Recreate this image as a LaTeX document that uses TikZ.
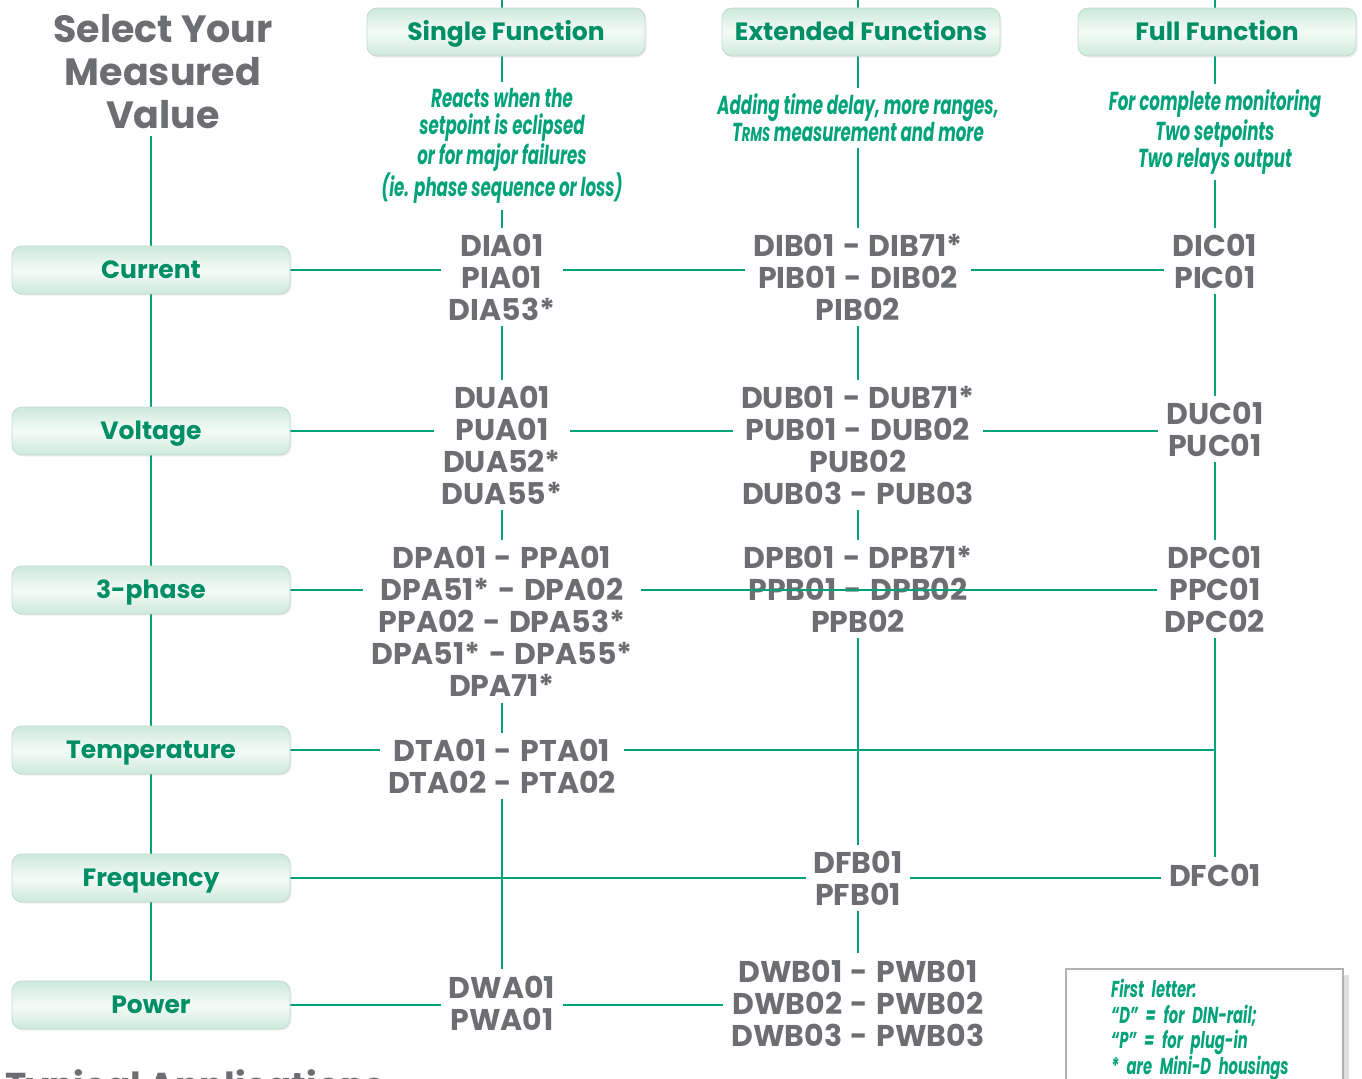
\documentclass[tikz,border=0pt]{standalone}
\usepackage{fontspec}
\setmainfont{Poppins}
\newfontfamily\notefont[FakeStretch=0.64]{Poppins}
\usetikzlibrary{backgrounds,shadows}
\definecolor{linegreen}{HTML}{00A27A}
\definecolor{boxgreen}{HTML}{008E65}
\definecolor{codegray}{HTML}{6D6E72}
\definecolor{mint}{HTML}{CDE9DC}
\definecolor{mintlight}{HTML}{F4FBF7}
\newcommand\codesep{\hspace{0.28em}-\hspace{0.28em}}

\begin{document}
\begin{tikzpicture}[x=0.5pt,y=-0.5pt]
\tikzstyle{link}=[linegreen,line width=1pt]
\tikzstyle{tab}=[rounded corners=5pt,draw=mint!85!gray,top color=mint,bottom color=mint,middle color=mintlight,minimum width=139pt,minimum height=24pt,text height=9pt,text depth=1pt,text=boxgreen,font=\fontsize{12.5}{14}\selectfont\bfseries,drop shadow={opacity=0.12,shadow xshift=0.8pt,shadow yshift=-0.8pt}]
\tikzstyle{code}=[fill=white,text=codegray,align=center,font=\fontsize{15}{16}\selectfont\bfseries,inner xsep=4pt,inner ysep=3pt]
\tikzstyle{note}=[fill=white,text=linegreen,align=center,font=\notefont\fontsize{13}{13.5}\selectfont\bfseries\itshape,inner sep=3pt]

\useasboundingbox (0,0) rectangle (1362,1078);
\clip (0,0) rectangle (1362,1078);

% title and column heads
\node[text=codegray,font=\fontsize{19}{21.5}\selectfont\bfseries,align=center] (title) at (163,72) {Select Your\\Measured\\Value};

\coordinate (topS) at (502,0);
\coordinate (topE) at (858,0);
\coordinate (topF) at (1215,0);

\node[tab] (single) at (506,32) {Single Function};
\node[tab] (extended) at (861,32) {Extended Functions};
\node[tab] (full) at (1217,32) {Full Function};

\node[note] (da) at (502,146) {Reacts when the\\setpoint is eclipsed\\or for major failures\\(ie. phase sequence or loss)};
\node[note] (db) at (858,118) {Adding time delay, more ranges,\\T{\fontsize{10}{13.5}\selectfont RMS} measurement and more};
\node[note] (dc) at (1215,132) {For complete monitoring\\Two setpoints\\Two relays output};

% measured values
\foreach \name/\y/\txt in {cur/270/Current,volt/431/Voltage,tri/590/3-phase,temp/750/Temperature,freq/878/Frequency,pow/1005/Power}
{
  \node[tab] (\name) at (151,\y) {\txt};
}

% product codes
\node[code] (ia) at (502,277) {DIA01\\PIA01\\DIA53*};
\node[code] (ib) at (858,277) {DIB01\codesep DIB71*\\PIB01\codesep DIB02\\PIB02};
\node[code] (ic) at (1215,261) {DIC01\\PIC01};

\node[code] (ua) at (502,445) {DUA01\\PUA01\\DUA52*\\DUA55*};
\node[code] (ub) at (858,445) {DUB01\codesep DUB71*\\PUB01\codesep DUB02\\PUB02\\DUB03\codesep PUB03};
\node[code] (uc) at (1215,429) {DUC01\\PUC01};

\node[code] (pa) at (502,621.5) {DPA01\codesep PPA01\\DPA51*\codesep DPA02\\PPA02\codesep DPA53*\\DPA51*\codesep DPA55*\\DPA71*};
\node[code] (pb) at (858,589) {DPB01\codesep DPB71*\\PPB01\codesep DPB02\\PPB02};
\node[code] (pc) at (1215,589) {DPC01\\PPC01\\DPC02};

\node[code] (ta) at (502,766) {DTA01\codesep PTA01\\DTA02\codesep PTA02};

\node[code] (fb) at (858,878) {DFB01\\PFB01};
\node[code] (fc) at (1215,875) {DFC01};

\node[code] (wa) at (502,1003) {DWA01\\PWA01};
\node[code] (wb) at (858,1003) {DWB01\codesep PWB01\\DWB02\codesep PWB02\\DWB03\codesep PWB03};

% legend
\node[draw=gray!60,line width=1.2pt,fill=white,drop shadow={opacity=0.25},anchor=north west,text width=93.5pt,inner xsep=22.5pt,inner ysep=5pt,align=left,text=linegreen,font=\notefont\fontsize{11.5}{12.75}\selectfont\bfseries\itshape] (legend) at (1065,968) {First letter:\\“D” = for DIN-rail;\\“P” = for plug-in\\{*} are Mini-D housings};

\node[anchor=north west,inner sep=0pt,text=codegray,font=\fontsize{18}{20}\selectfont\bfseries] (typical) at (5,1069) {Typical Applications};

\begin{pgfonlayer}{background}
\draw[link] (title.south -| cur.north) -- (pow.north);
\draw[link] (topS) -- (wa);
\draw[link] (topE) -- (wb);
\draw[link] (topF) -- (fc);
\draw[link] (cur) -- (cur -| ic.west);
\draw[link] (volt) -- (volt -| uc.west);
\draw[link] (tri) -- (tri -| pa.west);
\draw[link] (temp) -- (temp -| fc);
\draw[link] (freq) -- (freq -| fc.west);
\draw[link] (pow) -- (pow -| wb.west);
\end{pgfonlayer}
\draw[link] (tri -| pa.east) -- (tri -| pc.west);

\end{tikzpicture}
\end{document}
